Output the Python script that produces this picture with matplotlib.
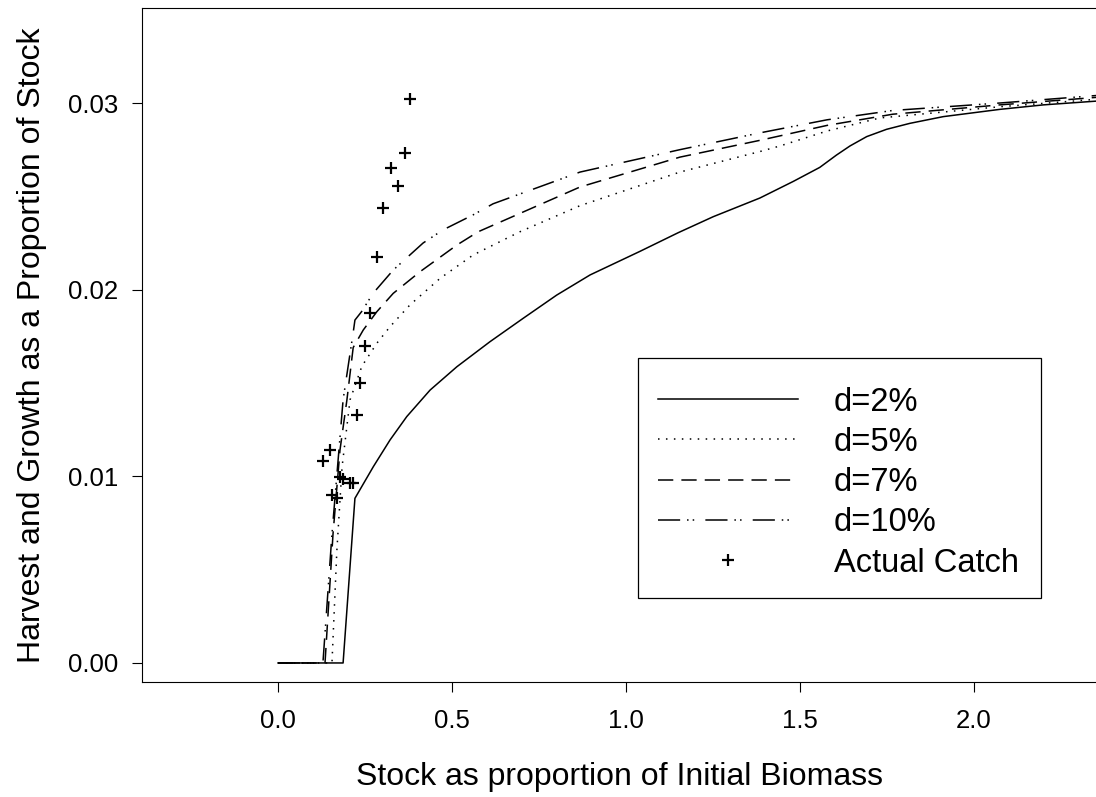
import numpy as np
import matplotlib
matplotlib.use("Agg")
import matplotlib.pyplot as plt
from matplotlib.patches import Rectangle

plt.rcParams['font.family'] = ['Liberation Sans', 'DejaVu Sans']

# curves
x_d2 = [0.0, 0.187, 0.221, 0.274, 0.322, 0.370, 0.437, 0.514, 0.609, 0.705, 0.801, 0.897,
        1.040, 1.150, 1.251, 1.385, 1.481, 1.557, 1.605, 1.644, 1.692, 1.749, 1.816, 1.912,
        2.075, 2.2, 2.351]
y_d2 = [0.0, 0.0, 0.00882, 0.01052, 0.01195, 0.0132, 0.01462, 0.01587, 0.01721, 0.01847,
        0.01971, 0.02079, 0.02205, 0.02305, 0.02391, 0.02491, 0.0258, 0.02655, 0.02721,
        0.0277, 0.0282, 0.02859, 0.02891, 0.02927, 0.02966, 0.0299, 0.0301]

x_d5 = [0.0, 0.155, 0.169, 0.184, 0.207, 0.241, 0.284, 0.322, 0.379, 0.466, 0.561, 0.695,
        0.868, 1.155, 1.385, 1.443, 1.578, 1.730, 2.075, 2.351]
y_d5 = [0.0, 0.0, 0.006, 0.0105, 0.0141, 0.0159, 0.01713, 0.01802, 0.01918, 0.02061,
        0.02186, 0.0231, 0.0245, 0.0263, 0.0274, 0.0277, 0.0285, 0.0292, 0.0298, 0.0302]

x_d7 = [0.0, 0.135, 0.158, 0.178, 0.198, 0.216, 0.245, 0.284, 0.331, 0.408, 0.514, 0.575,
        0.868, 1.155, 1.385, 1.578, 1.767, 2.075, 2.351]
y_d7 = [0.0, 0.0, 0.0069, 0.0114, 0.0141, 0.0169, 0.01784, 0.01882, 0.0198, 0.02096,
        0.02239, 0.0231, 0.0255, 0.0271, 0.0280, 0.0288, 0.0294, 0.0299, 0.0303]

x_d10 = [0.0, 0.129, 0.155, 0.187, 0.216, 0.221, 0.240, 0.273, 0.331, 0.417, 0.474, 0.560,
         0.618, 0.868, 1.155, 1.385, 1.578, 1.767, 2.075, 2.351]
y_d10 = [0.0, 0.0, 0.0069, 0.0141, 0.0177, 0.01837, 0.01882, 0.0198, 0.02105, 0.0225,
         0.0232, 0.0240, 0.0246, 0.0263, 0.0275, 0.0284, 0.0291, 0.0296, 0.0300, 0.0304]

# actual catch points
catch_x = [0.379, 0.365, 0.325, 0.345, 0.303, 0.284, 0.264, 0.250, 0.236, 0.227, 0.149,
           0.129, 0.178, 0.187, 0.207, 0.216, 0.155, 0.169]
catch_y = [0.0302, 0.0273, 0.0265, 0.02555, 0.0244, 0.02175, 0.01875, 0.01698, 0.0150,
           0.01329, 0.01141, 0.01082, 0.00996, 0.00986, 0.00964, 0.00964, 0.0090, 0.00884]

labels = ["d=2%", "d=5%", "d=7%", "d=10%", "Actual Catch"]

fig = plt.figure(figsize=(10.96, 7.97), dpi=100)
ax = fig.add_axes([142/1096, 1-682/797, 954/1096, 674/797])

lw = 1.1
ax.plot(x_d2, y_d2, color='black', lw=lw, ls='-', label=labels[0])
ax.plot(x_d5, y_d5, color='black', lw=lw, ls=(0, (1, 4.2)), label=labels[1])
ax.plot(x_d7, y_d7, color='black', lw=lw, ls=(0, (10, 5.3)), label=labels[2])
ax.plot(x_d10, y_d10, color='black', lw=lw, ls=(0, (14.5, 4.5, 1, 2.7, 1, 7.3)), label=labels[3])
ax.plot(catch_x, catch_y, ls='none', marker='+', ms=9, mew=1.6, color='black', label=labels[4])

ax.set_xlim(-0.391, 2.351)
ax.set_ylim(-0.00102, 0.03509)
ax.set_xticks([0.0, 0.5, 1.0, 1.5, 2.0])
ax.set_xticklabels(["0.0", "0.5", "1.0", "1.5", "2.0"])
ax.set_yticks([0.0, 0.01, 0.02, 0.03])
ax.set_yticklabels(["0.00", "0.01", "0.02", "0.03"])
ax.tick_params(axis='both', direction='out', length=7.2, width=0.8, labelsize=18.5)
ax.tick_params(axis='x', pad=12)
ax.tick_params(axis='y', pad=10)
ax.spines['right'].set_visible(False)
for s in ['left', 'top', 'bottom']:
    ax.spines[s].set_linewidth(0.8)

ax.set_xlabel("Stock as proportion of Initial Biomass", fontsize=23, labelpad=21)
ax.set_ylabel("Harvest and Growth as a Proportion of Stock", fontsize=23, labelpad=15)

# legend text/handles without frame, frame drawn separately
ax.legend(loc='upper left', bbox_to_anchor=(496/954, 315/674), borderaxespad=0,
          fontsize=23.5, frameon=False, handlelength=4.3, handletextpad=1.1,
          labelspacing=0.285, borderpad=0.6)
ax.add_patch(Rectangle((496/954, 84/674), 403/954, 240/674, transform=ax.transAxes,
                       fill=False, edgecolor='black', lw=0.9, zorder=5))

fig.savefig("out.png", dpi=100)
